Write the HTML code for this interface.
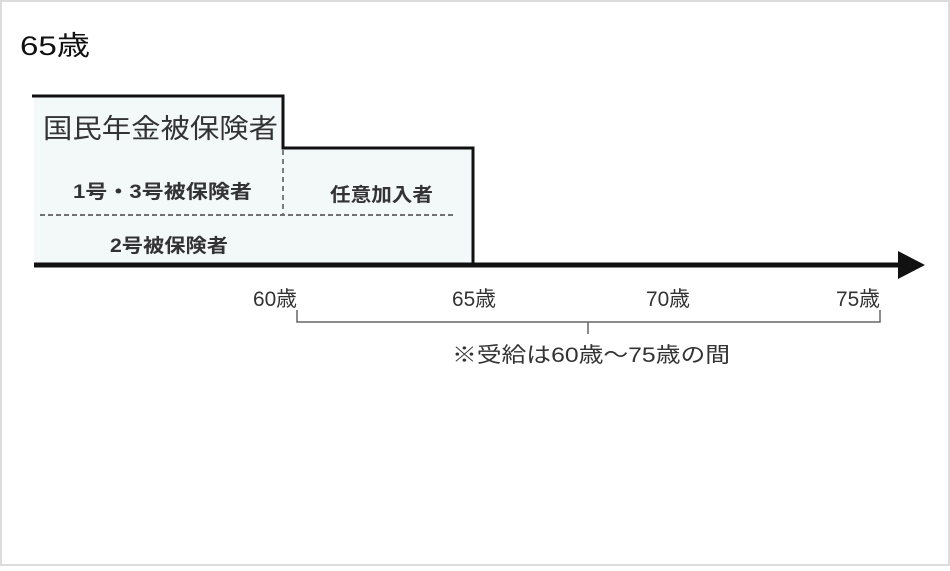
<!DOCTYPE html>
<html><head><meta charset="utf-8"><style>
body{margin:0;width:950px;height:566px;overflow:hidden;background:#fff}
</style></head><body>
<svg width="950" height="566" xmlns="http://www.w3.org/2000/svg" font-family="Liberation Sans, Noto Sans CJK JP, sans-serif">
<rect x="1" y="1" width="948" height="564" fill="#fff" stroke="#dcdcdc" stroke-width="2"/>
<text x="20" y="55" font-size="27" fill="#111" textLength="70" lengthAdjust="spacingAndGlyphs">65歳</text>
<path d="M34 96 H283 V148 H473 V265 H34 Z" fill="#f3f8f9"/>
<path d="M32 96 H283 V148 H473 V265" fill="none" stroke="#111" stroke-width="3"/>
<line x1="283" y1="150" x2="283" y2="214" stroke="#555" stroke-width="1.5" stroke-dasharray="5,4"/>
<line x1="40" y1="215" x2="455" y2="215" stroke="#444" stroke-width="1.5" stroke-dasharray="5,3"/>
<text x="43" y="138" font-size="27" fill="#333" textLength="235" lengthAdjust="spacingAndGlyphs">国民年金被保険者</text>
<text x="73" y="198" font-size="19" fill="#333" font-weight="bold" textLength="179" lengthAdjust="spacingAndGlyphs">1号・3号被保険者</text>
<text x="330" y="201" font-size="19" fill="#333" font-weight="bold" textLength="103" lengthAdjust="spacingAndGlyphs">任意加入者</text>
<text x="110" y="252" font-size="19" fill="#333" font-weight="bold" textLength="118" lengthAdjust="spacingAndGlyphs">2号被保険者</text>
<line x1="34" y1="265" x2="900" y2="265" stroke="#111" stroke-width="5"/>
<polygon points="898,251 925,265 898,279" fill="#111"/>
<g font-size="21" fill="#333">
<text x="253" y="306" textLength="44" lengthAdjust="spacingAndGlyphs">60歳</text>
<text x="452" y="306" textLength="44" lengthAdjust="spacingAndGlyphs">65歳</text>
<text x="646" y="306" textLength="44" lengthAdjust="spacingAndGlyphs">70歳</text>
<text x="836" y="306" textLength="44" lengthAdjust="spacingAndGlyphs">75歳</text>
<text x="452" y="362" textLength="278" lengthAdjust="spacingAndGlyphs">※受給は60歳～75歳の間</text>
</g>
<path d="M297 310 V322 H880 V310 M588 322 V334" fill="none" stroke="#666" stroke-width="1.5"/>
</svg>
</body></html>
